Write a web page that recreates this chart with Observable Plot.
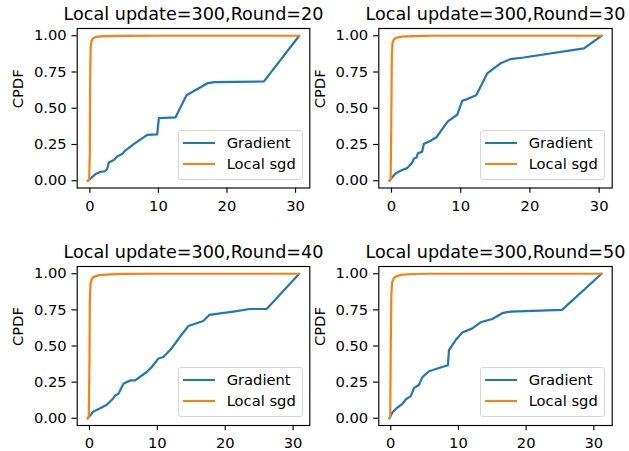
<!DOCTYPE html>
<html><head><meta charset="utf-8">
<script src="https://cdn.jsdelivr.net/npm/d3@7"></script>
<script src="https://cdn.jsdelivr.net/npm/@observablehq/plot@0.6"></script>
<style>
body{margin:0;background:#fff;}
#fig{position:relative;width:629px;height:451px;overflow:hidden;background:#fff;font-family:"DejaVu Sans";}
.panel{position:absolute;}
.panel svg{overflow:visible;display:block;}
.legend{position:absolute;width:125px;height:50px;box-sizing:border-box;border:1px solid #d6d6d6;border-radius:3px;background:rgba(255,255,255,0.8);}
.legend .h{position:absolute;left:4px;width:32px;height:2px;}
.legend .t{position:absolute;left:47.7px;height:20px;line-height:20px;font-size:14.7px;color:#000;white-space:nowrap;}
</style></head><body><div id="fig"></div><script>
// ---- data ----
const xTicks = [0, 10, 20, 30];
const yTicks = [0, 0.25, 0.5, 0.75, 1];
const seriesNames = ["Gradient", "Local sgd"];
const titles = ["Local update=300,Round=20", "Local update=300,Round=30", "Local update=300,Round=40", "Local update=300,Round=50"];

const grad20X = [-0.3, 0.0, 0.83, 1.56, 2.14, 2.53, 2.77, 3.5, 3.99, 4.72, 5.2, 6.41, 8.37, 9.82, 10.07, 12.49, 14.1, 17.1, 18.1, 25.4, 30.54];
const grad20Y = [0, 0.011, 0.046, 0.062, 0.064, 0.08, 0.126, 0.143, 0.168, 0.184, 0.21, 0.253, 0.317, 0.32, 0.432, 0.437, 0.59, 0.671, 0.68, 0.685, 1];
const sgd20X = [-0.3, -0.1, 0.0, 0.05, 0.12, 0.25, 0.5, 0.9, 2, 5, 10, 30.54];
const sgd20Y = [0, 0.005, 0.2, 0.7, 0.92, 0.965, 0.983, 0.992, 0.997, 0.999, 1, 1];

const grad30X = [-0.3, 0.1, 0.58, 1.55, 2.27, 2.99, 3.22, 3.61, 3.8, 4.43, 4.67, 5.64, 6.5, 7.33, 8.14, 9.49, 10.22, 10.94, 12.24, 13.83, 15.75, 17.2, 19.1, 27.8, 30.35];
const grad30Y = [0, 0.023, 0.05, 0.074, 0.087, 0.126, 0.152, 0.16, 0.189, 0.2, 0.253, 0.276, 0.3, 0.356, 0.41, 0.455, 0.552, 0.563, 0.59, 0.74, 0.81, 0.839, 0.85, 0.913, 1];
const sgd30X = [-0.3, -0.12, -0.03, 0.05, 0.15, 0.35, 0.7, 1.5, 3, 6, 30.35];
const sgd30Y = [0, 0.01, 0.4, 0.85, 0.95, 0.975, 0.986, 0.994, 0.998, 1, 1];

const grad40X = [-0.25, 0.1, 0.59, 1.57, 2.56, 3.44, 3.78, 4.27, 5.0, 5.99, 6.72, 8.44, 9.18, 10.15, 10.88, 12.1, 13.34, 14.56, 16.76, 17.65, 21.2, 23.6, 26.1, 30.9];
const grad40Y = [0, 0.019, 0.047, 0.07, 0.093, 0.135, 0.158, 0.17, 0.239, 0.262, 0.262, 0.32, 0.355, 0.413, 0.424, 0.483, 0.564, 0.638, 0.673, 0.715, 0.738, 0.756, 0.756, 1];
const sgd40X = [-0.25, -0.1, 0.0, 0.05, 0.15, 0.35, 0.7, 1.5, 3, 5, 10, 30.9];
const sgd40Y = [0, 0.01, 0.4, 0.8, 0.93, 0.965, 0.98, 0.99, 0.996, 0.999, 1, 1];

const grad50X = [-0.2, 0.25, 0.88, 1.72, 2.21, 2.95, 3.44, 4.18, 4.67, 5.65, 7.13, 8.45, 8.6, 9.59, 10.57, 12.05, 13.27, 15.0, 16.47, 17.7, 25.3, 31.15];
const grad50Y = [0, 0.042, 0.07, 0.1, 0.13, 0.153, 0.209, 0.232, 0.285, 0.325, 0.348, 0.367, 0.471, 0.541, 0.594, 0.622, 0.664, 0.687, 0.727, 0.738, 0.75, 1];
const sgd50X = [-0.2, -0.08, 0.0, 0.08, 0.2, 0.45, 0.8, 1.5, 3, 6, 31.15];
const sgd50Y = [0, 0.01, 0.5, 0.85, 0.94, 0.97, 0.982, 0.992, 0.998, 1, 1];

const colors = ["#1f77b4", "#ff7f0e"];

// ---- layout ----
const layouts = [
  {left: 0,   top: 0,   w: 314, h: 225, ml: 76.7, mr: 4.7,  mt: 28, mb: 37.5},
  {left: 314, top: 0,   w: 315, h: 225, ml: 64.3, mr: 17.3, mt: 28, mb: 37.5},
  {left: 0,   top: 225, w: 314, h: 226, ml: 76.7, mr: 4.7,  mt: 41, mb: 26},
  {left: 314, top: 225, w: 315, h: 226, ml: 64.3, mr: 17.3, mt: 41, mb: 26}
];
const panels = [
  [grad20X, grad20Y, sgd20X, sgd20Y],
  [grad30X, grad30Y, sgd30X, sgd30Y],
  [grad40X, grad40Y, sgd40X, sgd40Y],
  [grad50X, grad50Y, sgd50X, sgd50Y]
];

const fig = document.getElementById("fig");
panels.forEach(([gx, gy, sx, sy], k) => {
  const L = layouts[k];
  const grad = gx.map((x, i) => ({x, y: gy[i]}));
  const sgd = sx.map((x, i) => ({x, y: sy[i]}));
  const [lo, hi] = d3.extent([...gx, ...sx]);
  const pad = 0.05 * (hi - lo);
  const plot = Plot.plot({
    width: L.w, height: L.h,
    marginLeft: L.ml, marginRight: L.mr, marginTop: L.mt, marginBottom: L.mb,
    x: {domain: [lo - pad, hi + pad]},
    y: {domain: [-0.05, 1.05]},
    style: {fontFamily: "DejaVu Sans", overflow: "visible", background: "transparent", color: "black"},
    marks: [
      Plot.line(grad, {x: "x", y: "y", stroke: colors[0], strokeWidth: 2.2}),
      Plot.line(sgd, {x: "x", y: "y", stroke: colors[1], strokeWidth: 2.2}),
      Plot.frame({stroke: "black", strokeWidth: 1.15}),
      Plot.axisX({ticks: xTicks, tickFormat: "d", tickSize: 5.2, tickPadding: 7, fontSize: 14.7, strokeWidth: 1.15, label: null}),
      Plot.axisY({ticks: yTicks, tickFormat: ".2f", tickSize: 5.2, tickPadding: 5.4, fontSize: 14.7, strokeWidth: 1.15, label: null}),
      Plot.text([titles[k]], {frameAnchor: "top", dy: -8.8, lineAnchor: "bottom", fontSize: 17.6}),
      Plot.text(["CPDF"], {frameAnchor: "left", dx: -58.7, rotate: -90, fontSize: 14.7})
    ]
  });
  const div = document.createElement("div");
  div.className = "panel";
  div.style.left = L.left + "px";
  div.style.top = L.top + "px";
  div.style.width = L.w + "px";
  div.style.height = L.h + "px";
  div.appendChild(plot);

  const leg = document.createElement("div");
  leg.className = "legend";
  leg.style.left = Math.round(L.w - L.mr - 6.8 - 125) + "px";
  leg.style.top = Math.round(L.h - L.mb - 8 - 50) + "px";
  seriesNames.forEach((name, i) => {
    const cy = i === 0 ? 12 : 33;
    const h = document.createElement("div");
    h.className = "h";
    h.style.top = (cy - 1) + "px";
    h.style.background = colors[i];
    const t = document.createElement("div");
    t.className = "t";
    t.style.top = (cy - 10) + "px";
    t.textContent = name;
    leg.appendChild(h);
    leg.appendChild(t);
  });
  div.appendChild(leg);
  fig.appendChild(div);
});
</script></body></html>
